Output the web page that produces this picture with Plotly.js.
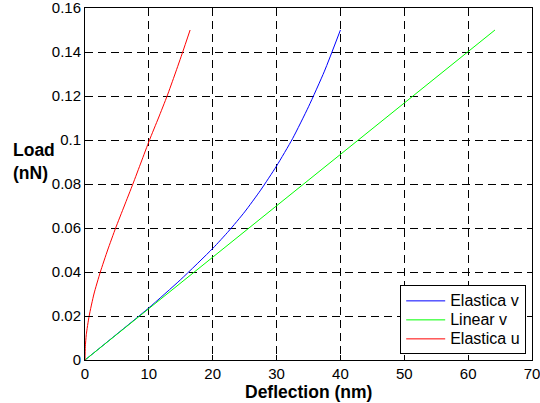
<!DOCTYPE html>
<html>
<head>
<meta charset="utf-8">
<script src="https://cdn.plot.ly/plotly-3.0.1.min.js"></script>
<style>html,body{margin:0;padding:0;background:#fff;}#chart{width:540px;height:403px;}</style>
</head>
<body>
<div id="chart"></div>
<script>
// Data
var seriesNames = ["Elastica v", "Linear v", "Elastica u"];

var elasticaVX = [0, 5, 10, 15, 20, 22.5, 25, 27.5, 30, 32.5, 35, 37.5, 40];
var elasticaVY = [0, 0.0118, 0.0237, 0.0366, 0.0507, 0.0586, 0.0673, 0.0772, 0.0882, 0.1006, 0.1151, 0.1313, 0.15];

var linearVX = [0, 64.2];
var linearVY = [0, 0.15];

var elasticaUX = [0, 0.05, 0.2, 0.65, 1.4, 2.4, 3.55, 4.8, 6.15, 7.5, 8.8, 10.1, 11.5, 12.86, 14.1, 15.3, 16.46];
var elasticaUY = [0, 0.006, 0.0115, 0.02, 0.03, 0.04, 0.05, 0.06, 0.07, 0.08, 0.09, 0.1, 0.11, 0.12, 0.13, 0.14, 0.15];

var xTickVals = [0, 10, 20, 30, 40, 50, 60, 70];
var xTickText = ["0", "10", "20", "30", "40", "50", "60", "70"];
var yTickVals = [0, 0.02, 0.04, 0.06, 0.08, 0.1, 0.12, 0.14, 0.16];
var yTickText = ["0", "0.02", "0.04", "0.06", "0.08", "0.1", "0.12", "0.14", "0.16"];

var xTitle = "Deflection (nm)";
var yTitleLines = ["Load", "(nN)"];

var FONT = "Liberation Sans, Arial, Helvetica, sans-serif";

function legendName(s) { return '<span style="font-size:16px">' + s + '</span>'; }

var traces = [
  {x: elasticaVX, y: elasticaVY, name: legendName(seriesNames[0]), mode: "lines",
   line: {color: "#0000ff", width: 1, shape: "spline", smoothing: 0.6}},
  {x: linearVX, y: linearVY, name: legendName(seriesNames[1]), mode: "lines",
   line: {color: "#00ff00", width: 1}},
  {x: elasticaUX, y: elasticaUY, name: legendName(seriesNames[2]), mode: "lines",
   line: {color: "#ff0000", width: 1, shape: "spline", smoothing: 0.6}}
];

var axisCommon = {
  showline: true, linecolor: "#000", linewidth: 1, mirror: "ticks",
  ticks: "inside", ticklen: 5, tickcolor: "#000",
  showgrid: true, gridcolor: "#000", gridwidth: 1, griddash: "8px,5px",
  zeroline: false, ticklabeloverflow: "allow",
  tickfont: {family: FONT, size: 15, color: "#000"}
};

var layout = {
  width: 540, height: 403,
  margin: {l: 85, r: 8, t: 8, b: 43},
  paper_bgcolor: "#fff", plot_bgcolor: "#fff",
  font: {family: FONT, size: 15, color: "#000"},
  xaxis: Object.assign({}, axisCommon, {
    range: [0, 70], tickmode: "array", tickvals: xTickVals, ticktext: xTickText
  }),
  yaxis: Object.assign({}, axisCommon, {
    range: [0, 0.16], tickmode: "array", tickvals: yTickVals, ticktext: yTickText
  }),
  showlegend: true,
  legend: {
    x: 0.987, xanchor: "right", y: 0.016, yanchor: "bottom",
    bgcolor: "#fff", bordercolor: "#000", borderwidth: 1,
    font: {family: FONT, size: 12, color: "#000"},
    itemwidth: 39, tracegroupgap: 0
  },
  annotations: [
    {
      text: "<b>" + xTitle + "</b>", xref: "paper", yref: "paper",
      x: 0.5, y: -0.09, xanchor: "center", yanchor: "middle", showarrow: false,
      font: {family: FONT, size: 17.5, color: "#000"}
    },
    {
      text: "<b>" + yTitleLines[0] + "</b><br><b>" + yTitleLines[1] + "</b>", xref: "paper", yref: "paper",
      x: -0.165, y: 0.563, xanchor: "left", yanchor: "middle", showarrow: false, align: "left",
      font: {family: FONT, size: 17.5, color: "#000"}
    }
  ]
};

Plotly.newPlot("chart", traces, layout, {staticPlot: true, displayModeBar: false});
</script>
</body>
</html>
